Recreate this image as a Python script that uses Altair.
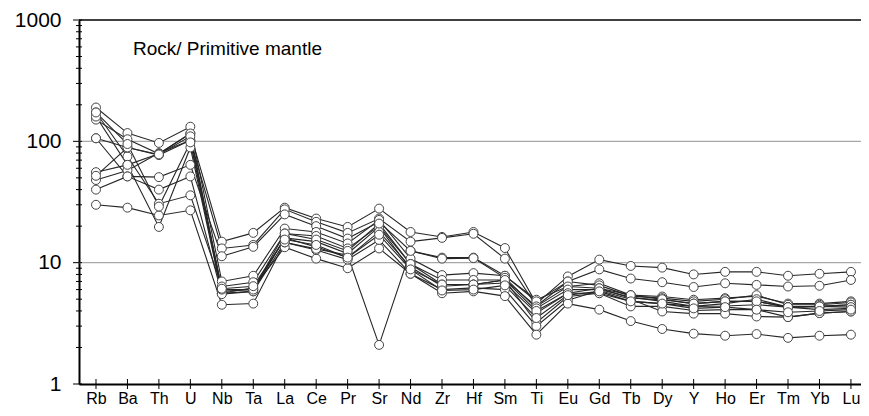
import altair as alt
import pandas as pd

FONT = "Liberation Sans"

elements = ["Rb", "Ba", "Th", "U", "Nb", "Ta", "La", "Ce", "Pr", "Sr", "Nd", "Zr", "Hf",
            "Sm", "Ti", "Eu", "Gd", "Tb", "Dy", "Y", "Ho", "Er", "Tm", "Yb", "Lu"]

title_text = "Rock/ Primitive mantle"

# Sample values (rock / primitive mantle)
A1 = [55.7, 64, 79, 116, 14.9, 17.6, 28.4, 23.1, 19.7, 27.9, 17.9, 16.3, 17.9, 13.2, 4.6, 7.7, 10.6, 9.4, 9.1, 8.0, 8.4, 8.4, 7.8, 8.1, 8.4]
A2 = [48, 57.5, 80, 102, 13.1, 14.0, 27.5, 21.7, 17.6, 23.1, 14.9, 16.0, 17.3, 10.8, 4.4, 7.0, 8.8, 7.4, 6.9, 6.3, 6.76, 6.56, 6.36, 6.45, 7.2]
A3 = [40, 51.4, 50.7, 64, 11.3, 13.5, 25.0, 20.0, 15.8, 21.7, 12.5, 11.0, 11.0, 7.8, 4.95, 6.36, 6.76, 5.4, 5.26, 4.95, 5.1, 5.3, 4.6, 4.6, 4.8]
S1 = [190, 117, 97, 132, 7.0, 7.8, 19.1, 17.9, 14.4, 22.5, 10.8, 7.9, 8.2, 7.8, 4.8, 7.0, 6.5, 5.3, 5.1, 4.8, 5.0, 5.4, 4.5, 4.5, 4.7]
S2 = [173, 75, 30.6, 35.9, 6.36, 6.9, 17.4, 16.6, 13.1, 20.0, 9.75, 7.2, 7.2, 7.2, 4.36, 6.36, 6.15, 5.1, 4.95, 4.6, 4.8, 4.8, 4.3, 4.36, 4.5]
S3 = [151, 104, 79, 116, 5.8, 6.0, 16.0, 14.9, 11.9, 19.7, 8.8, 6.6, 6.6, 6.8, 3.84, 5.6, 5.6, 4.8, 4.6, 4.36, 4.4, 4.5, 4.3, 4.1, 4.2]
S4 = [106, 89, 77, 102, 5.6, 5.8, 16.0, 13.5, 11.0, 18.0, 9.2, 6.4, 6.6, 7.2, 3.2, 5.26, 5.6, 4.36, 4.36, 4.04, 4.1, 4.1, 3.56, 3.84, 3.96]
S5 = [160, 64, 19.7, 89, 5.6, 6.2, 13.4, 10.8, 9.0, 13.1, 8.1, 6.0, 6.2, 6.0, 3.0, 4.9, 5.9, 5.0, 3.96, 3.8, 3.8, 3.6, 3.56, 3.84, 3.96]
S6 = [30, 28.4, 24.5, 27, 4.5, 4.6, 14.7, 12.7, 10.6, 15.4, 8.1, 5.6, 5.8, 5.3, 2.55, 4.6, 4.1, 3.3, 2.84, 2.6, 2.5, 2.58, 2.4, 2.5, 2.55]
S7 = [106, 51.4, 40, 51.4, 5.5, 5.8, 14.7, 13.0, 11.5, 2.1, 12.5, 10.8, 10.9, 7.5, 4.2, 6.0, 6.0, 5.2, 4.8, 4.36, 4.6, 5.0, 4.3, 4.36, 4.5]
S8 = [52, 89, 78, 110, 6.0, 6.0, 17.4, 15.5, 12.5, 21.0, 9.75, 6.6, 6.6, 7.2, 4.0, 5.6, 6.15, 5.4, 5.0, 4.6, 4.8, 4.8, 4.3, 4.36, 4.3]
S9 = [173, 95, 29, 98, 6.1, 6.4, 15.5, 14.0, 11.0, 17.0, 8.8, 5.9, 6.0, 6.5, 3.5, 5.4, 5.8, 4.8, 4.6, 4.2, 4.3, 4.1, 3.9, 4.0, 4.1]

samples = {"A1": A1, "A2": A2, "A3": A3, "S1": S1, "S2": S2, "S3": S3,
           "S4": S4, "S5": S5, "S6": S6, "S7": S7, "S8": S8, "S9": S9}

grid_values = [10, 100]
top_value = [1000]
major_ticks = [1, 10, 100, 1000]
minor_ticks = [m * d for d in (1, 10, 100) for m in range(2, 10)]

rows = []
for name, vals in samples.items():
    for i, (el, v) in enumerate(zip(elements, vals)):
        rows.append({"sample": name, "idx": i, "element": el, "value": v})
df = pd.DataFrame(rows)

W, H = 782, 364
PAD = {"left": 71, "top": 12, "right": 0, "bottom": 24}

x_scale = alt.Scale(domain=[-0.540, 24.32], nice=False, zero=False)
y_scale = alt.Scale(type="log", domain=[1, 1000], nice=False)

label_expr = "[" + ",".join("'%s'" % e for e in elements) + "][datum.value]"

x_axis = alt.Axis(values=list(range(len(elements))), labelExpr=label_expr, ticks=False,
                  grid=False, domainColor="black", domainWidth=2, labelFont=FONT,
                  labelFontSize=16, labelColor="black", labelPadding=6, title=None,
                  labelFlush=False, labelOverlap=False, labelSeparation=0)
y_axis = alt.Axis(values=major_ticks, format="d", ticks=False, grid=False,
                  domainColor="black", domainWidth=2, labelFont=FONT, labelFontSize=21,
                  labelColor="black", labelPadding=18, title=None, labelOverlap=False)

base = alt.Chart(df)

lines = base.mark_line(color="#262626", strokeWidth=1.1).encode(
    x=alt.X("idx:Q", scale=x_scale, axis=x_axis),
    y=alt.Y("value:Q", scale=y_scale, axis=y_axis),
    detail="sample:N",
    order="idx:Q",
)

points = base.mark_point(shape="circle", filled=True, fill="white", stroke="#444444",
                         strokeWidth=1, size=80, opacity=1).encode(
    x=alt.X("idx:Q", scale=x_scale, axis=x_axis),
    y=alt.Y("value:Q", scale=y_scale, axis=y_axis),
)

grid = alt.Chart(pd.DataFrame({"v": grid_values})).mark_rule(
    color="#a8a8a8", strokeWidth=1.2).encode(
    y=alt.Y("v:Q", scale=y_scale, axis=y_axis), x=alt.value(0), x2=alt.value(W))

top = alt.Chart(pd.DataFrame({"v": top_value})).mark_rule(
    color="black", strokeWidth=1.6).encode(
    y=alt.Y("v:Q", scale=y_scale, axis=y_axis), x=alt.value(0), x2=alt.value(W))

ymin = alt.Chart(pd.DataFrame({"v": minor_ticks})).mark_rule(
    color="black", strokeWidth=1).encode(
    y=alt.Y("v:Q", scale=y_scale, axis=y_axis), x=alt.value(-3), x2=alt.value(3))

ymaj = alt.Chart(pd.DataFrame({"v": major_ticks})).mark_rule(
    color="black", strokeWidth=1).encode(
    y=alt.Y("v:Q", scale=y_scale, axis=y_axis), x=alt.value(-6), x2=alt.value(3))

xt = alt.Chart(pd.DataFrame({"idx": list(range(len(elements)))})).mark_rule(
    color="black", strokeWidth=1).encode(
    x=alt.X("idx:Q", scale=x_scale, axis=x_axis), y=alt.value(H - 5), y2=alt.value(H + 5))

title = alt.Chart(pd.DataFrame({"t": [title_text]})).mark_text(
    align="left", baseline="alphabetic", font=FONT, fontSize=19, color="black").encode(
    text="t:N", x=alt.value(54), y=alt.value(35))

chart = alt.layer(grid, top, lines, points, ymin, ymaj, xt, title).properties(
    width=W, height=H,
    background="white",
    autosize=alt.AutoSizeParams(type="none"),
    padding=PAD,
).configure_view(strokeWidth=0, strokeOpacity=0).configure_axis(
    labelOverlap=False
)

chart.save("out.html", embed_options={"renderer": "svg", "actions": False})
